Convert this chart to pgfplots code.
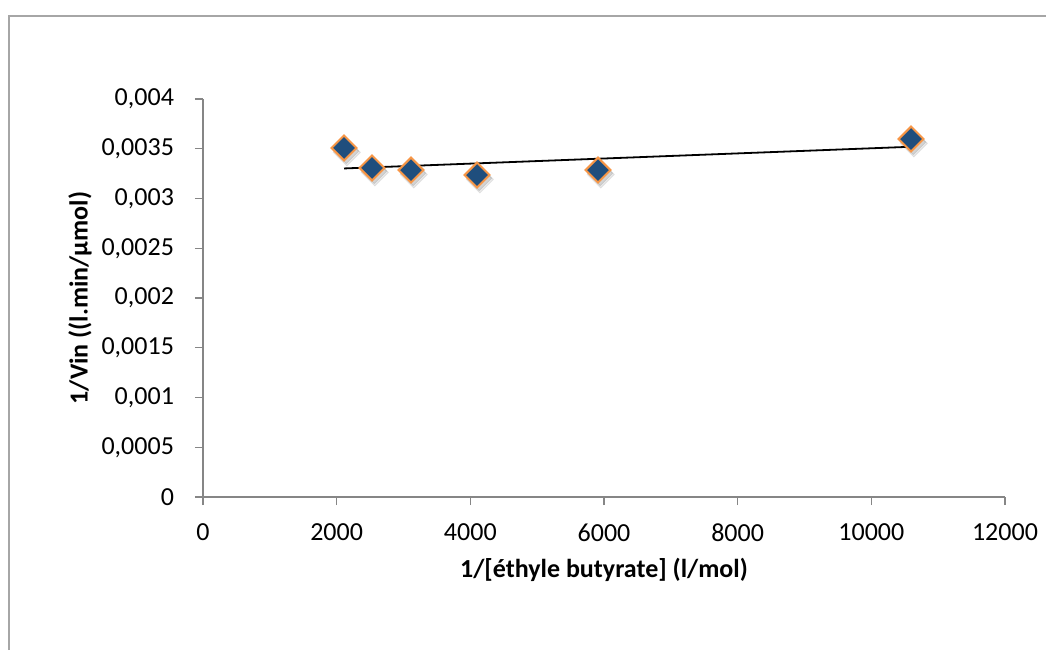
\documentclass[border=0pt]{standalone}
\usepackage{pgfplots}
\pgfplotsset{compat=1.18}
\usepackage{fontspec}
\setmainfont{Carlito}
\definecolor{axisgray}{HTML}{868686}
\definecolor{framegray}{HTML}{A6A6A6}
\definecolor{markblue}{HTML}{1F4E7D}
\definecolor{markorange}{HTML}{F79646}
\begin{document}
\begin{tikzpicture}
\useasboundingbox (0,0) rectangle (523pt,325pt);
% chart area border
\draw[framegray, line width=1pt] (4.5pt,0) -- (4.5pt,317pt) -- (523pt,317pt);
\begin{axis}[
  at={(101.5pt,76.5pt)}, anchor=south west,
  scale only axis, width=401pt, height=199pt,
  xmin=0, xmax=12000, ymin=0, ymax=0.004,
  axis x line*=bottom, axis y line*=left,
  axis line style={axisgray, line width=0.7pt},
  every tick/.style={axisgray, line width=0.7pt},
  tick align=outside, major tick length=4pt,
  xtick={0,2000,...,12000},
  ytick={0,0.0005,0.001,0.0015,0.002,0.0025,0.003,0.0035,0.004},
  scaled ticks=false,
  /pgf/number format/assume math mode=true,
  xticklabel style={/pgf/number format/1000 sep={}, font=\fontsize{13}{15}\selectfont, yshift=-6pt},
  yticklabel style={/pgf/number format/.cd, fixed, precision=4, use comma, /tikz/.cd, font=\fontsize{13}{15}\selectfont, xshift=-7pt},
  xlabel={\textbf{1/[éthyle butyrate] (l/mol)}},
  ylabel={\textbf{1/Vin ((l.min/µmol)}},
  label style={font=\fontsize{13}{15}\selectfont},
  xlabel style={yshift=-1pt},
  ylabel style={yshift=-2pt},
  clip=false,
]
% soft shadow under the markers
\addplot[only marks, mark=square*, mark size=4.8pt, mark options={rotate=45, fill=black, draw=none, opacity=0.08}, xshift=1.4pt, yshift=-2.2pt]
  coordinates {(2110,0.003508) (2529,0.003307) (3112,0.003286) (4100,0.003236) (5910,0.003286) (10594,0.003598)};
\addplot[only marks, mark=square*, mark size=4.4pt, mark options={rotate=45, fill=black, draw=none, opacity=0.10}, xshift=1.1pt, yshift=-1.6pt]
  coordinates {(2110,0.003508) (2529,0.003307) (3112,0.003286) (4100,0.003236) (5910,0.003286) (10594,0.003598)};
% linear trend line
\addplot[black, line width=0.9pt] coordinates {(2110,0.003302) (10594,0.003520)};
% measured points
\addplot[only marks, mark=square*, mark size=4.4pt, mark options={rotate=45, fill=markblue, draw=markorange, line width=1pt}]
  coordinates {(2110,0.003508) (2529,0.003307) (3112,0.003286) (4100,0.003236) (5910,0.003286) (10594,0.003598)};
\end{axis}
\end{tikzpicture}
\end{document}
